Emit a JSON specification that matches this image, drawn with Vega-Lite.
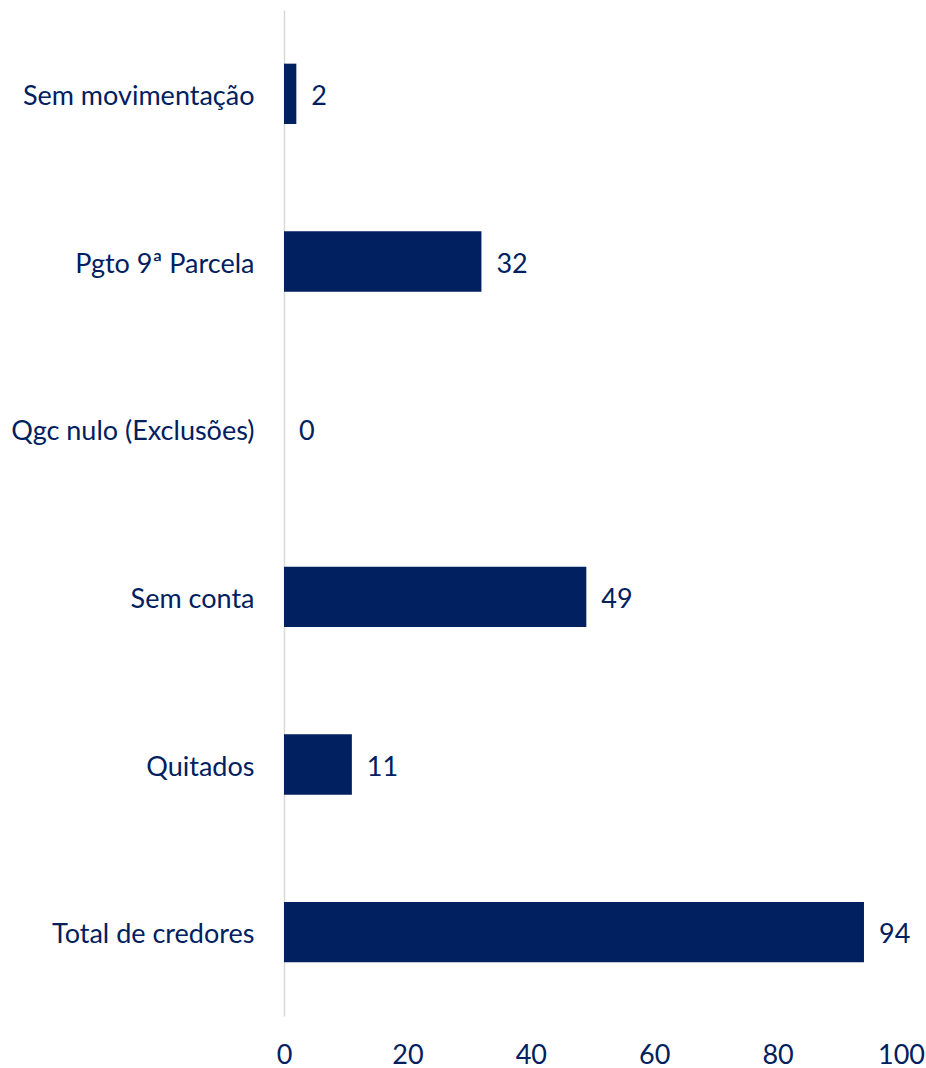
{
  "$schema": "https://vega.github.io/schema/vega-lite/v6.json",
  "width": 617,
  "height": 1006,
  "autosize": {"type": "none"},
  "padding": {"left": 284, "top": 10, "right": 25, "bottom": 52},
  "background": "white",
  "config": {"view": {"stroke": null}, "font": "Lato"},
  "data": {
    "values": [
      {"categoria": "Sem movimentação", "valor": 2},
      {"categoria": "Pgto 9ª Parcela", "valor": 32},
      {"categoria": "Qgc nulo (Exclusões)", "valor": 0},
      {"categoria": "Sem conta", "valor": 49},
      {"categoria": "Quitados", "valor": 11},
      {"categoria": "Total de credores", "valor": 94}
    ]
  },
  "encoding": {
    "y": {
      "field": "categoria",
      "type": "nominal",
      "sort": null,
      "scale": {"paddingInner": 0.64, "paddingOuter": 0.32},
      "axis": {
        "title": null,
        "ticks": false,
        "domainColor": "#d9d9d9",
        "domainWidth": 1.5,
        "labelFont": "Lato",
        "labelFontSize": 27,
        "labelColor": "#002060",
        "labelPadding": 30,
        "labelLimit": 300,
        "labelBaseline": "middle",
        "labelOffset": 3
      }
    },
    "x": {
      "field": "valor",
      "type": "quantitative",
      "scale": {"domain": [0, 100]},
      "axis": {
        "title": null,
        "grid": false,
        "domain": false,
        "ticks": false,
        "values": [0, 20, 40, 60, 80, 100],
        "labelFont": "Lato",
        "labelFontSize": 27,
        "labelColor": "#002060",
        "labelPadding": 26,
        "labelFlush": false
      }
    }
  },
  "layer": [
    {"mark": {"type": "bar", "color": "#002060"}},
    {
      "mark": {"type": "text", "align": "left", "baseline": "middle", "dx": 15, "dy": 3, "font": "Lato", "fontSize": 27, "color": "#002060"},
      "encoding": {"text": {"field": "valor", "type": "quantitative"}}
    }
  ]
}
